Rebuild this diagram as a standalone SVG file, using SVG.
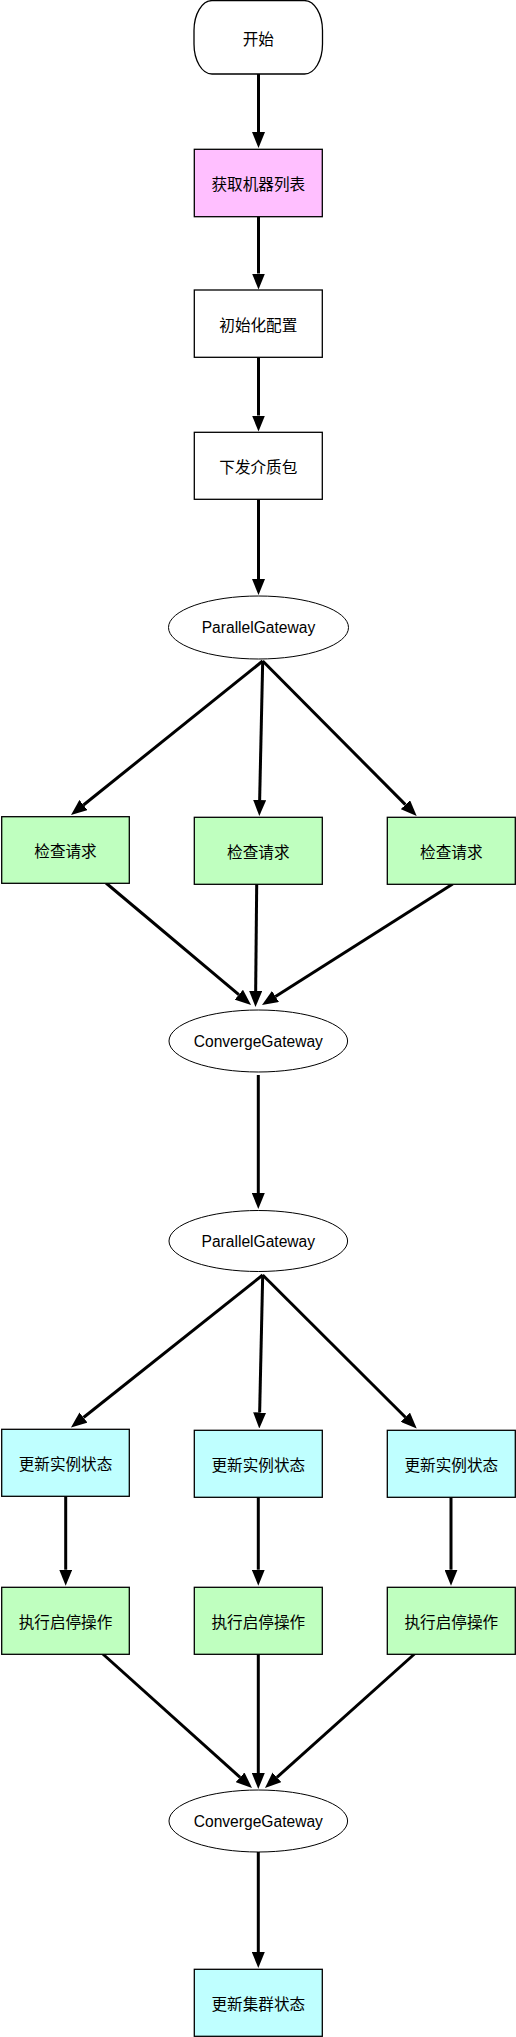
<svg xmlns="http://www.w3.org/2000/svg" width="516" height="2037" viewBox="0 0 516 2037">
<style>
.box{stroke:#000;stroke-width:1.3}
.ell{fill:#fff;stroke:#000;stroke-width:1}
.w{fill:#fff}.p{fill:#FFBFFF}.g{fill:#BFFFBF}.c{fill:#BFFFFF}
.cjk{font-family:"Noto Sans CJK SC","Noto Sans",sans-serif;font-size:15.6px;fill:#000;text-anchor:middle;dominant-baseline:central}
.lat{font-family:"Liberation Sans",Arial,sans-serif;font-size:15.6px;fill:#000;text-anchor:middle;dominant-baseline:central}
.e{fill:none;stroke:#000;stroke-width:3;marker-end:url(#ah)}
</style>
<defs>
<marker id="ah" markerUnits="userSpaceOnUse" markerWidth="16" markerHeight="13" viewBox="0 0 16 13" refX="0" refY="6.5" orient="auto">
<path d="M0,0 L16,6.5 L0,13 Z" fill="#000"/>
</marker>
</defs>
<g id="connectors">
<path class="e" d="M258.5,74 L258.5,132"/>
<path class="e" d="M258.5,217 L258.5,273.5"/>
<path class="e" d="M258.5,357.5 L258.5,415.5"/>
<path class="e" d="M258.5,499.5 L258.5,579"/>
<path class="e" d="M262.7,661 L83.5,805"/>
<path class="e" d="M262.7,661 L259.65,800"/>
<path class="e" d="M262.7,661 L405.4,804.65"/>
<path class="e" d="M106,883 L238.8,994.7"/>
<path class="e" d="M256.7,884 L255.66,991"/>
<path class="e" d="M452.7,884 L275.5,996.4"/>
<path class="e" d="M258.3,1075 L258.3,1193"/>
<path class="e" d="M262.7,1275 L83.5,1417.5"/>
<path class="e" d="M262.7,1275 L259.65,1412.5"/>
<path class="e" d="M262.7,1275 L405.4,1417.2"/>
<path class="e" d="M65.7,1495 L65.7,1569.7"/>
<path class="e" d="M258.3,1497 L258.3,1569.7"/>
<path class="e" d="M451,1497 L451,1569.7"/>
<path class="e" d="M102.3,1653.5 L240.1,1777.3"/>
<path class="e" d="M258.3,1653.5 L258.3,1773"/>
<path class="e" d="M415,1653.5 L276.9,1777.3"/>
<path class="e" d="M258.3,1851.5 L258.3,1952"/>
</g>
<g id="start"><rect class="box w" x="194" y="0.6" width="128.5" height="73.4" rx="18" ry="30"/><text class="cjk" x="258.3" y="38">开始</text></g>
<g id="getMachines"><rect class="box p" x="194.3" y="149.3" width="128" height="67.4"/><text class="cjk" x="258.3" y="183">获取机器列表</text></g>
<g id="initConfig"><rect class="box w" x="194.3" y="290" width="128" height="67.3"/><text class="cjk" x="258.3" y="323.7">初始化配置</text></g>
<g id="dispatch"><rect class="box w" x="194.3" y="432.3" width="128" height="67"/><text class="cjk" x="258.3" y="465.8">下发介质包</text></g>
<g id="parallel1"><ellipse class="ell" cx="258.5" cy="627.5" rx="90" ry="31.5"/><text class="lat" x="258.5" y="627.5">ParallelGateway</text></g>
<g id="check1"><rect class="box g" x="1.7" y="816.7" width="127.6" height="66.6"/><text class="cjk" x="65.5" y="850">检查请求</text></g>
<g id="check2"><rect class="box g" x="194.3" y="817.3" width="128" height="67"/><text class="cjk" x="258.3" y="850.8">检查请求</text></g>
<g id="check3"><rect class="box g" x="387.3" y="817.3" width="128" height="67"/><text class="cjk" x="451.3" y="850.8">检查请求</text></g>
<g id="converge1"><ellipse class="ell" cx="258.3" cy="1041" rx="89.3" ry="31"/><text class="lat" x="258.3" y="1041">ConvergeGateway</text></g>
<g id="parallel2"><ellipse class="ell" cx="258.3" cy="1241" rx="89.3" ry="30.5"/><text class="lat" x="258.3" y="1241">ParallelGateway</text></g>
<g id="update1"><rect class="box c" x="1.7" y="1429.3" width="127.6" height="67"/><text class="cjk" x="65.5" y="1462.8">更新实例状态</text></g>
<g id="update2"><rect class="box c" x="194.3" y="1430.3" width="128" height="67"/><text class="cjk" x="258.3" y="1463.8">更新实例状态</text></g>
<g id="update3"><rect class="box c" x="387.3" y="1430.3" width="128" height="67"/><text class="cjk" x="451.3" y="1463.8">更新实例状态</text></g>
<g id="exec1"><rect class="box g" x="1.7" y="1587.3" width="127.6" height="67"/><text class="cjk" x="65.5" y="1620.8">执行启停操作</text></g>
<g id="exec2"><rect class="box g" x="194.3" y="1587.3" width="128" height="67"/><text class="cjk" x="258.3" y="1620.8">执行启停操作</text></g>
<g id="exec3"><rect class="box g" x="387.3" y="1587.3" width="128" height="67"/><text class="cjk" x="451.3" y="1620.8">执行启停操作</text></g>
<g id="converge2"><ellipse class="ell" cx="258.3" cy="1821" rx="89.3" ry="31"/><text class="lat" x="258.3" y="1821">ConvergeGateway</text></g>
<g id="updateCluster"><rect class="box c" x="194.3" y="1969.3" width="128" height="67"/><text class="cjk" x="258.3" y="2002.8">更新集群状态</text></g>
</svg>
